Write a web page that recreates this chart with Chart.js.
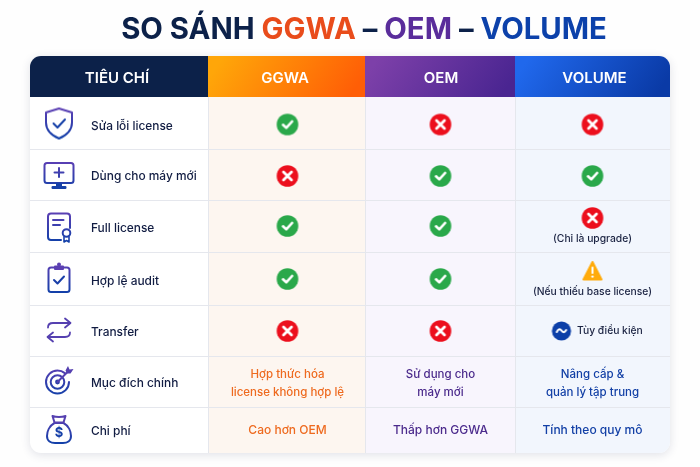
<!DOCTYPE html>
<html>
<head>
<meta charset="utf-8">
<script src="https://cdn.jsdelivr.net/npm/chart.js@4"></script>
<style>
html, body { margin: 0; padding: 0; background: #fefefe; }
canvas { display: block; }
</style>
</head>
<body>
<canvas id="chart" width="700" height="467"></canvas>
<script>
// Table content
const titleParts = ['SO SÁNH ', 'GGWA', ' – ', 'OEM', ' – ', 'VOLUME'];
const headers = ['TIÊU CHÍ', 'GGWA', 'OEM', 'VOLUME'];
const criteria = ['Sửa lỗi license', 'Dùng cho máy mới', 'Full license', 'Hợp lệ audit', 'Transfer', 'Mục đích chính', 'Chi phí'];
const criteriaIcons = ['shield', 'monitor', 'licence', 'clipboard', 'arrows', 'target', 'bag'];
const ggwaStatus = ['check', 'cross', 'check', 'check', 'cross', null, null];
const oemStatus = ['cross', 'check', 'check', 'check', 'cross', null, null];
const volumeStatus = ['cross', 'check', 'cross', 'warn', 'tilde', null, null];
const volumeNotes = [null, null, '(Chỉ là upgrade)', '(Nếu thiếu base license)', null, null, null];
const ggwaTexts = [null, null, null, null, null, ['Hợp thức hóa', 'license không hợp lệ'], ['Cao hơn OEM']];
const oemTexts = [null, null, null, null, null, ['Sử dụng cho', 'máy mới'], ['Thấp hơn GGWA']];
const volumeTexts = [null, null, null, null, 'Tùy điều kiện', ['Nâng cấp &', 'quản lý tập trung'], ['Tính theo quy mô']];

// Table grid in table units (scales run 0-640 and 0-397)
const colEdges = [0, 178, 335, 485, 640];
const rowEdges = [0, 41, 93, 144, 196, 249, 300, 351, 397];
const headerMids = [87, 255, 411, 564.5];
const bodyCols = [257.5, 410.5, 562.5];
const iconCol = 29;
const labelCol = 61;
const iconRows = [67.5, 120, 171, 222, 274, 325, 373];
const labelRows = [70, 120, 172, 225, 276, 327, 375];
const statusRows = [68.5, 120, 170, 223, 275, 328, 374];

const FONT = 'Inter, sans-serif';
const NAVY = '#0c2149';
const colText = ['#ee6a1f', '#4b2a8c', '#1340a6'];
const colFill = ['#fdf6f0', '#f8f5fd', '#f2f6fd'];
const titleColors = [NAVY, '#e94c1b', NAVY, '#5a2d9b', NAVY, '#0c41aa'];

function iconCanvas(size, paint) {
    const cv = document.createElement('canvas');
    cv.width = size;
    cv.height = size;
    const g = cv.getContext('2d');
    g.lineCap = 'round';
    g.lineJoin = 'round';
    paint(g, size);
    return cv;
}

function stroke(g, pts) {
    g.beginPath();
    pts.forEach((p, i) => i ? g.lineTo(p[0], p[1]) : g.moveTo(p[0], p[1]));
    g.stroke();
}

// Status marks
const statusStyles = {
    check: iconCanvas(24, g => {
        g.fillStyle = '#2aa84a';
        g.beginPath(); g.arc(12, 12, 10.8, 0, 7); g.fill();
        g.strokeStyle = '#fff'; g.lineWidth = 2.6;
        stroke(g, [[7.5, 12.3], [10.8, 15.4], [16.6, 9]]);
    }),
    cross: iconCanvas(24, g => {
        g.fillStyle = '#ec0f1d';
        g.beginPath(); g.arc(12, 12, 10.8, 0, 7); g.fill();
        g.strokeStyle = '#fff'; g.lineWidth = 2.8;
        stroke(g, [[8, 8], [16, 16]]);
        stroke(g, [[16, 8], [8, 16]]);
    }),
    warn: iconCanvas(24, g => {
        g.fillStyle = g.strokeStyle = '#ffab0c';
        g.lineWidth = 2;
        g.beginPath(); g.moveTo(12, 3); g.lineTo(21, 20.5); g.lineTo(3, 20.5); g.closePath();
        g.fill(); g.stroke();
        g.strokeStyle = '#fff'; g.lineWidth = 2;
        stroke(g, [[12, 8.5], [12, 14]]);
        g.fillStyle = '#fff';
        g.beginPath(); g.arc(12, 17.6, 1.2, 0, 7); g.fill();
    }),
    tilde: iconCanvas(24, g => {
        g.fillStyle = '#0c3fa8';
        g.beginPath(); g.arc(12, 12, 9.6, 0, 7); g.fill();
        g.strokeStyle = '#fff'; g.lineWidth = 2;
        g.beginPath(); g.moveTo(7.3, 13); g.bezierCurveTo(9, 9.5, 10.8, 9.8, 12, 11.6);
        g.bezierCurveTo(13.2, 13.6, 15, 14, 16.7, 11); g.stroke();
    })
};

// Criteria icons, outlined with a purple to blue gradient
const iconPainters = {
    shield(g) {
        g.beginPath(); g.moveTo(18, 3); g.lineTo(31, 7); g.lineTo(31, 17);
        g.bezierCurveTo(31, 25, 25, 30, 18, 33); g.bezierCurveTo(11, 30, 5, 25, 5, 17);
        g.lineTo(5, 7); g.closePath(); g.stroke();
        g.strokeStyle = '#1640a8';
        stroke(g, [[12.5, 18], [16.5, 22], [24, 14]]);
    },
    monitor(g) {
        g.beginPath(); g.roundRect(3.5, 5, 29, 20, 2.5); g.stroke();
        stroke(g, [[18, 10], [18, 19]]);
        stroke(g, [[13.5, 14.5], [22.5, 14.5]]);
        g.fillStyle = '#1640a8';
        g.fillRect(15, 25, 6, 3);
        g.beginPath(); g.roundRect(10.5, 28, 15, 3, 1.2); g.fill();
    },
    licence(g) {
        g.beginPath(); g.moveTo(20, 31); g.lineTo(10, 31);
        g.arcTo(7, 31, 7, 28, 3); g.lineTo(7, 7.5); g.arcTo(7, 4.5, 10, 4.5, 3);
        g.lineTo(26, 4.5); g.arcTo(29, 4.5, 29, 7.5, 3); g.lineTo(29, 19); g.stroke();
        stroke(g, [[12, 11], [22.5, 11]]);
        stroke(g, [[12, 16], [19, 16]]);
        g.beginPath(); g.arc(25.5, 24, 3.8, 0, 7); g.stroke();
        g.lineWidth = 1.6;
        stroke(g, [[23, 28], [23, 33], [25.5, 31.5], [28, 33], [28, 28]]);
    },
    clipboard(g) {
        g.beginPath(); g.roundRect(7.5, 7.5, 21, 24.5, 2.5); g.stroke();
        g.fillStyle = '#5b3fb2';
        g.beginPath(); g.roundRect(13, 5.5, 10, 4.5, 1); g.fill();
        g.beginPath(); g.arc(18, 4.5, 2, 0, 7); g.fill();
        g.strokeStyle = '#1a3fa8';
        stroke(g, [[13, 20], [16.5, 23.5], [23, 16.5]]);
    },
    arrows(g) {
        g.strokeStyle = '#5540b0';
        g.lineWidth = 1.8;
        g.beginPath(); g.moveTo(7, 15.5); g.bezierCurveTo(7, 12.5, 9, 11, 12, 11); g.lineTo(29, 11); g.stroke();
        stroke(g, [[24, 6.5], [29.5, 11], [24, 15.5]]);
        g.beginPath(); g.moveTo(29, 20.5); g.bezierCurveTo(29, 23.5, 27, 25, 24, 25); g.lineTo(7, 25); g.stroke();
        stroke(g, [[12, 20.5], [6.5, 25], [12, 29.5]]);
    },
    target(g) {
        g.beginPath(); g.arc(16.5, 19, 11.5, 0, Math.PI * 1.72); g.stroke();
        g.beginPath(); g.arc(16.5, 19, 6.8, 0, 7); g.stroke();
        g.fillStyle = '#2a3fa8';
        g.beginPath(); g.arc(16.5, 19, 2.4, 0, 7); g.fill();
        g.strokeStyle = '#5540b0';
        stroke(g, [[16.5, 19], [27, 8.5]]);
        g.fillStyle = '#5540b0';
        g.beginPath(); g.moveTo(24.5, 7.5); g.lineTo(27, 3); g.lineTo(28.5, 6.5); g.lineTo(32.5, 6);
        g.lineTo(29.5, 10.5); g.lineTo(26, 10.5); g.closePath(); g.fill();
    },
    bag(g) {
        g.beginPath(); g.moveTo(13.5, 12); g.bezierCurveTo(8, 15, 6, 21, 6, 25);
        g.bezierCurveTo(6, 30, 10, 32, 14, 32); g.lineTo(22, 32);
        g.bezierCurveTo(26, 32, 30, 30, 30, 25); g.bezierCurveTo(30, 21, 28, 15, 22.5, 12); g.closePath(); g.stroke();
        g.strokeStyle = '#5540b0';
        g.beginPath(); g.moveTo(13.5, 11.5); g.lineTo(11.5, 5); g.quadraticCurveTo(18, 7, 24.5, 5);
        g.lineTo(22.5, 11.5); g.closePath(); g.stroke();
        g.fillStyle = '#1640a8';
        g.font = '700 13px ' + FONT;
        g.textAlign = 'center';
        g.textBaseline = 'middle';
        g.fillText('$', 18, 22.5);
    }
};

function criteriaStyle(name) {
    return iconCanvas(36, g => {
        const grad = g.createLinearGradient(0, 2, 0, 34);
        grad.addColorStop(0, '#5f3fb4');
        grad.addColorStop(1, '#0f40a8');
        g.strokeStyle = grad;
        g.lineWidth = 2;
        iconPainters[name](g);
    });
}

// One point per status cell, lifted when a note sits under it
const statusColumns = [ggwaStatus, oemStatus, volumeStatus];
const statusPoints = [];
const statusPointStyles = [];
statusColumns.forEach((list, c) => list.forEach((kind, r) => {
    if (!kind) return;
    let x = bodyCols[c];
    let y = statusRows[r];
    if (volumeNotes[r] && c === 2) y -= 8;
    if (kind === 'tilde') x -= 31;
    statusPoints.push({ x, y });
    statusPointStyles.push(statusStyles[kind]);
}));

const iconPoints = criteria.map((_, r) => ({ x: iconCol, y: iconRows[r] }));
const iconStyles = criteriaIcons.map(criteriaStyle);

function diagonal(ctx, x0, y0, x1, y1, from, to) {
    const grad = ctx.createLinearGradient(x0, y0, x1, y1);
    grad.addColorStop(0, from);
    grad.addColorStop(1, to);
    return grad;
}

const tablePlugin = {
    id: 'tablePlugin',
    beforeDatasetsDraw(chart) {
        const { ctx, scales: { x, y } } = chart;
        const px = v => x.getPixelForValue(v);
        const py = v => y.getPixelForValue(v);
        const left = px(0), right = px(640), top = py(0), bottom = py(397);

        ctx.save();
        // Card and its soft shadow
        ctx.shadowColor = 'rgba(40,50,90,0.14)';
        ctx.shadowBlur = 10;
        ctx.shadowOffsetY = 2;
        ctx.fillStyle = '#fff';
        ctx.beginPath();
        ctx.roundRect(left, top, right - left, bottom - top, 11);
        ctx.fill();
        ctx.restore();

        ctx.save();
        ctx.beginPath();
        ctx.roundRect(left, top, right - left, bottom - top, 11);
        ctx.clip();

        // Column bodies
        colFill.forEach((fill, c) => {
            ctx.fillStyle = fill;
            ctx.fillRect(px(colEdges[c + 1]), py(rowEdges[1]), px(colEdges[c + 2]) - px(colEdges[c + 1]), bottom - py(rowEdges[1]));
        });

        // Header cells
        const headFills = [
            NAVY,
            ['#ffa609', '#ff5e06'],
            ['#7d40a9', '#4a2591'],
            ['#2068ec', '#0a3aa6']
        ];
        headers.forEach((_, c) => {
            const a = px(colEdges[c]), b = px(colEdges[c + 1]), t = py(rowEdges[0]), h = py(rowEdges[1]);
            const f = headFills[c];
            ctx.fillStyle = Array.isArray(f) ? diagonal(ctx, a + 25, t - 15, b - 25, h + 15, f[0], f[1]) : f;
            ctx.fillRect(a, t, b - a, h - t);
        });

        // Grid lines
        ctx.strokeStyle = '#e5e7ed';
        ctx.lineWidth = 1;
        rowEdges.slice(2, -1).forEach(v => {
            const yy = Math.round(py(v)) + 0.5;
            ctx.beginPath(); ctx.moveTo(left, yy); ctx.lineTo(right, yy); ctx.stroke();
        });
        colEdges.slice(1, -1).forEach(v => {
            const xx = Math.floor(px(v)) + 0.5;
            ctx.beginPath(); ctx.moveTo(xx, py(rowEdges[1])); ctx.lineTo(xx, bottom); ctx.stroke();
        });
        ctx.restore();
    },
    afterDatasetsDraw(chart) {
        const { ctx, scales: { x, y } } = chart;
        const px = v => x.getPixelForValue(v);
        const py = v => y.getPixelForValue(v);

        ctx.save();
        ctx.textBaseline = 'middle';

        // Title, one run per colour
        ctx.font = '700 29.3px ' + FONT;
        ctx.textAlign = 'left';
        const total = titleParts.reduce((s, t) => s + ctx.measureText(t).width, 0);
        let tx = 364 - total / 2;
        titleParts.forEach((t, i) => {
            ctx.fillStyle = titleColors[i];
            ctx.fillText(t, tx, 30);
            tx += ctx.measureText(t).width;
        });

        // Header labels
        ctx.textAlign = 'center';
        ctx.fillStyle = '#fff';
        ctx.font = '600 15px ' + FONT;
        headers.forEach((h, c) => ctx.fillText(h, px(headerMids[c]), py(rowEdges[1] / 2) + 2));

        // Criteria labels
        ctx.textAlign = 'left';
        ctx.fillStyle = '#111c42';
        ctx.font = '500 11.9px ' + FONT;
        criteria.forEach((t, r) => ctx.fillText(t, px(labelCol), py(labelRows[r])));

        // Coloured text cells
        ctx.textAlign = 'center';
        [ggwaTexts, oemTexts, volumeTexts].forEach((list, c) => list.forEach((lines, r) => {
            if (!Array.isArray(lines)) return;
            ctx.fillStyle = colText[c];
            ctx.font = lines.length > 1 ? '500 11.5px ' + FONT : '500 12px ' + FONT;
            lines.forEach((t, i) => {
                const off = (i - (lines.length - 1) / 2) * 18;
                ctx.fillText(t, px(bodyCols[c]), py(statusRows[r]) + off);
            });
        }));

        // Notes under the volume marks
        ctx.fillStyle = '#1b2342';
        ctx.font = '500 10.3px ' + FONT;
        volumeNotes.forEach((t, r) => {
            if (t) ctx.fillText(t, px(bodyCols[2]), py(statusRows[r]) + 13);
        });

        // Text beside the tilde mark
        ctx.textAlign = 'left';
        ctx.font = '500 10.3px ' + FONT;
        volumeTexts.forEach((t, r) => {
            if (typeof t === 'string') ctx.fillText(t, px(bodyCols[2] - 15.5), py(statusRows[r]));
        });
        ctx.restore();
    }
};

new Chart(document.getElementById('chart'), {
    type: 'scatter',
    data: {
        datasets: [
            { label: 'Trạng thái', data: statusPoints, pointStyle: statusPointStyles, pointRadius: 10 },
            { label: 'Tiêu chí', data: iconPoints, pointStyle: iconStyles, pointRadius: 10 }
        ]
    },
    options: {
        responsive: false,
        animation: false,
        events: [],
        layout: { padding: { left: 30, right: 30, top: 56, bottom: 14 } },
        scales: {
            x: { type: 'linear', min: 0, max: 640, display: false },
            y: { type: 'linear', min: 0, max: 397, reverse: true, display: false }
        },
        plugins: {
            legend: { display: false },
            tooltip: { enabled: false }
        }
    },
    plugins: [tablePlugin]
});
</script>
</body>
</html>
